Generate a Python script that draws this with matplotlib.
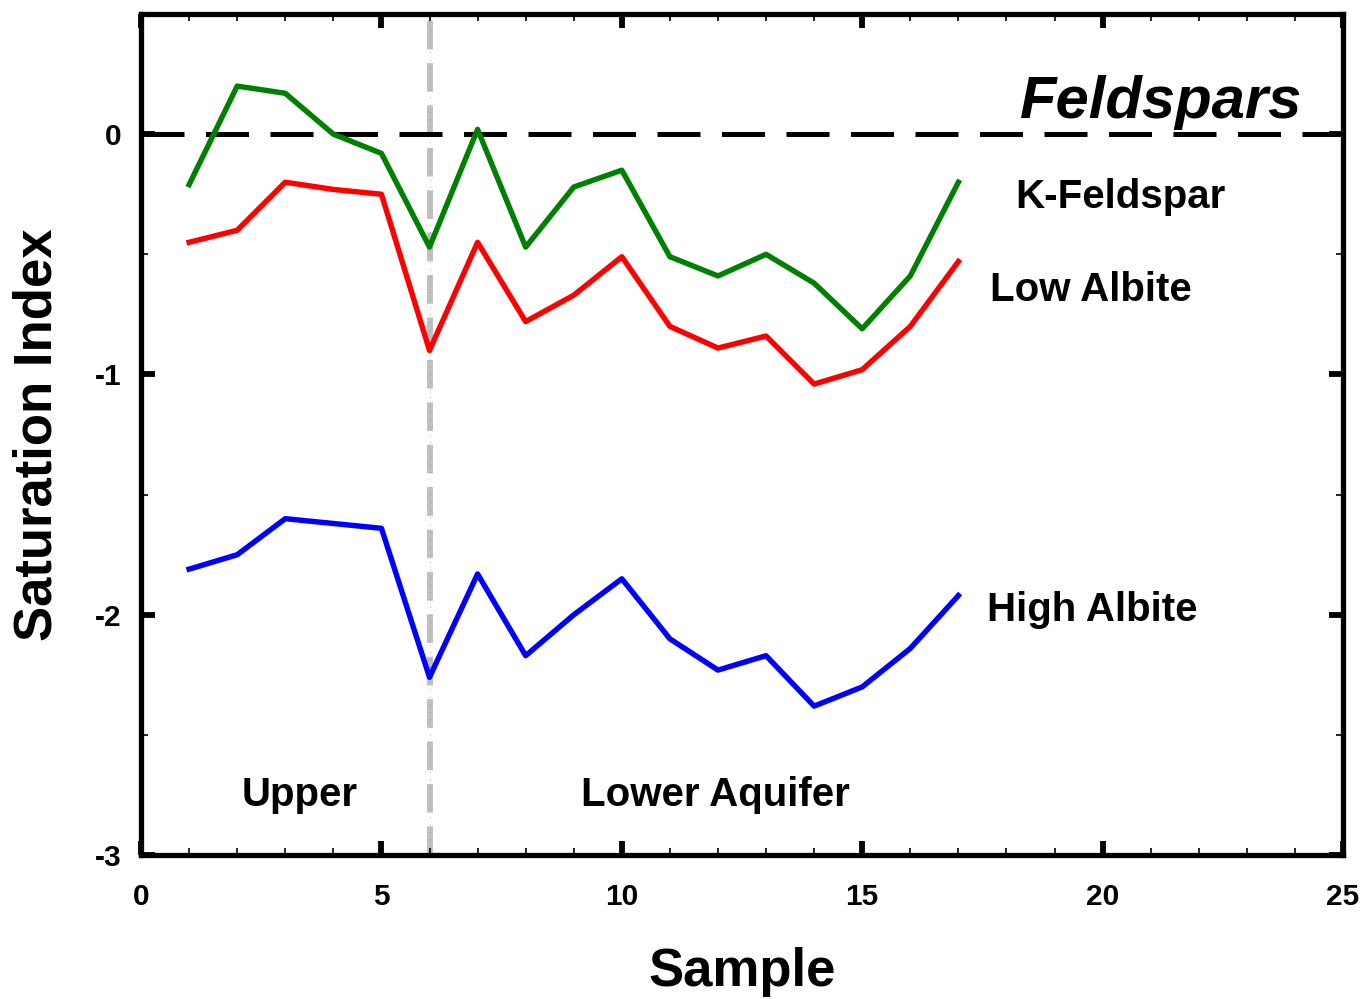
import matplotlib
matplotlib.use("Agg")
import matplotlib.pyplot as plt
from matplotlib.ticker import MultipleLocator

plt.rcParams['font.family'] = ['Liberation Sans', 'DejaVu Sans']
plt.rcParams['font.weight'] = 'bold'
plt.rcParams['axes.unicode_minus'] = False

samples = list(range(1, 18))
k_feldspar = [-0.21, 0.20, 0.17, 0.00, -0.08, -0.47, 0.02, -0.47, -0.22, -0.15,
              -0.51, -0.59, -0.50, -0.62, -0.81, -0.59, -0.20]
low_albite = [-0.45, -0.40, -0.20, -0.23, -0.25, -0.90, -0.45, -0.78, -0.67, -0.51,
              -0.80, -0.89, -0.84, -1.04, -0.98, -0.80, -0.53]
high_albite = [-1.81, -1.75, -1.60, -1.62, -1.64, -2.26, -1.83, -2.17, -2.00, -1.85,
               -2.10, -2.23, -2.17, -2.38, -2.30, -2.14, -1.92]
boundary = 6

fig = plt.figure(figsize=(13.64, 9.99), dpi=100)
ax = fig.add_axes([0.1034, 0.144, 0.8812, 0.842])

ax.axvline(boundary, color='#c0c0c0', lw=4.3, ls=(0, (4.8, 2.3)), zorder=1)
ax.axvline(boundary, color='#888888', lw=0.6, ls=(0, (1, 8)), zorder=1)
ax.axhline(0, color='black', lw=3.6, ls=(0, (8.6, 4.3)), zorder=1)

ax.plot(samples, k_feldspar, color='#008000', lw=3.9, zorder=3)
ax.plot(samples, low_albite, color='#ff0000', lw=3.9, zorder=3)
ax.plot(samples, high_albite, color='#0000ff', lw=3.9, zorder=3)

ax.set_xlim(0, 25)
ax.set_ylim(-3, 0.5)
ax.xaxis.set_major_locator(MultipleLocator(5))
ax.xaxis.set_minor_locator(MultipleLocator(1))
ax.yaxis.set_major_locator(MultipleLocator(1))
ax.yaxis.set_minor_locator(MultipleLocator(0.5))
ax.tick_params(which='both', direction='in', top=True, right=True, labelsize=21.5)
ax.tick_params(axis='x', pad=20)
ax.tick_params(axis='y', pad=14)
ax.tick_params(which='major', length=10, width=4.2)
ax.tick_params(which='minor', length=5, width=1.2)
for lab in ax.get_xticklabels() + ax.get_yticklabels():
    lab.set_fontweight('bold')
for s in ax.spines.values():
    s.set_linewidth(3.8)

ax.set_xlabel('Sample', fontsize=38, fontweight='bold', labelpad=26)
ax.set_ylabel('Saturation Index', fontsize=38, fontweight='bold', labelpad=23)

ax.text(24.15, 0.066, 'Feldspars', fontsize=43, fontweight='bold', style='italic',
        ha='right', va='baseline')
ax.text(18.18, -0.26, 'K-Feldspar', fontsize=29, fontweight='bold', ha='left', va='center')
ax.text(17.66, -0.65, 'Low Albite', fontsize=29, fontweight='bold', ha='left', va='center')
ax.text(17.6, -1.98, 'High Albite', fontsize=29, fontweight='bold', ha='left', va='center')
ax.text(3.29, -2.75, 'Upper', fontsize=29, fontweight='bold', ha='center', va='center')
ax.text(11.94, -2.75, 'Lower Aquifer', fontsize=29, fontweight='bold', ha='center', va='center')

fig.savefig('out.png', dpi=100)
